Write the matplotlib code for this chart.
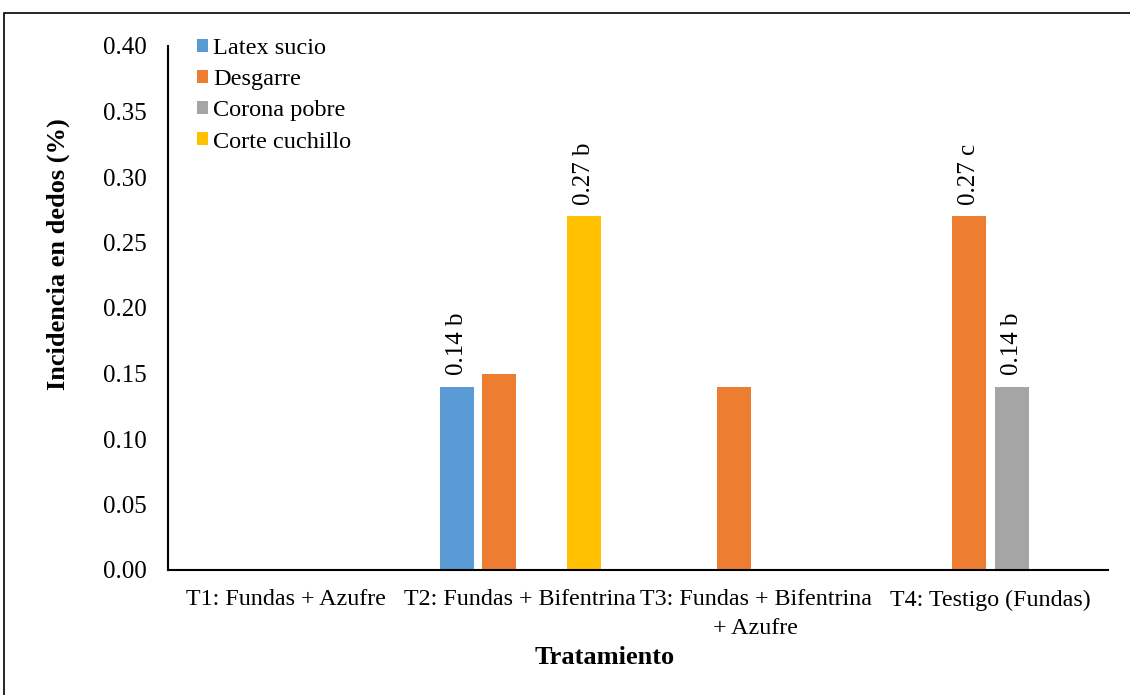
import matplotlib.pyplot as plt
import matplotlib.patches as mpatches
import numpy as np

plt.rcParams['font.family'] = ['Liberation Serif', 'DejaVu Serif']

tratamientos = ['T1: Fundas + Azufre', 'T2: Fundas + Bifentrina',
                'T3: Fundas + Bifentrina\n+ Azufre', 'T4: Testigo (Fundas)']
series = ['Latex sucio', 'Desgarre', 'Corona pobre', 'Corte cuchillo']
latex_sucio = [0.0, 0.14, 0.0, 0.0]
desgarre = [0.0, 0.15, 0.14, 0.27]
corona_pobre = [0.0, 0.0, 0.0, 0.14]
corte_cuchillo = [0.0, 0.27, 0.0, 0.0]
etiquetas = [
    ['', '0.14 b', '', ''],
    ['', '', '', '0.27 c'],
    ['', '', '', '0.14 b'],
    ['', '0.27 b', '', ''],
]
colores = ['#5B9BD5', '#ED7D31', '#A5A5A5', '#FFC000']

valores = [latex_sucio, desgarre, corona_pobre, corte_cuchillo]

fig = plt.figure(figsize=(11.3, 6.95), dpi=100)
ax = fig.add_axes([168 / 1130, 1 - 570 / 695, 940 / 1130, 524 / 695])

x = np.arange(len(tratamientos))
paso = 0.181
ancho = 0.145
for i, (nombre, vals) in enumerate(zip(series, valores)):
    pos = x + (i - 1.5) * paso
    barras = ax.bar(pos, vals, width=ancho, color=colores[i], label=nombre)
    for b, txt in zip(barras, etiquetas[i]):
        if txt:
            ax.annotate(txt, xy=(b.get_x() + b.get_width() / 2, b.get_height()),
                        xytext=(0, 8), textcoords='offset points',
                        rotation=90, ha='center', va='bottom', fontsize=18)

ax.set_xlim(-0.5, 3.5)
ax.set_ylim(0, 0.40)
ax.set_yticks(np.arange(0, 0.401, 0.05))
ax.yaxis.set_major_formatter('{x:.2f}')
ax.set_xticks(x)
ax.set_xticklabels(tratamientos, linespacing=1.5)
ax.tick_params(axis='y', length=0, pad=15, labelsize=18)
ax.tick_params(axis='x', length=0, pad=14, labelsize=17.3)

for s in ['top', 'right']:
    ax.spines[s].set_visible(False)
for s in ['left', 'bottom']:
    ax.spines[s].set_linewidth(1.5)
    ax.spines[s].set_color('black')

ax.set_xlabel('Tratamiento', fontsize=19, fontweight='bold')
ax.xaxis.set_label_coords(0.464, -0.145)
ax.set_ylabel('Incidencia en dedos (%)', fontsize=19, fontweight='bold')
ax.yaxis.set_label_coords(-0.104, 0.603)

ax.legend(loc='upper left', bbox_to_anchor=(197 / 1130, 1 - 38 / 695),
          bbox_transform=fig.transFigure, frameon=False, fontsize=17.5,
          handlelength=0.45, handleheight=0.45, handletextpad=0.2,
          labelspacing=0.42, borderpad=0, borderaxespad=0)

marco = mpatches.Rectangle((4 / 1130, -0.1), 1.2, 1.1 - 13 / 695,
                           transform=fig.transFigure, fill=False,
                           edgecolor='black', linewidth=1.2)
fig.add_artist(marco)

fig.savefig('out.png', dpi=100)
